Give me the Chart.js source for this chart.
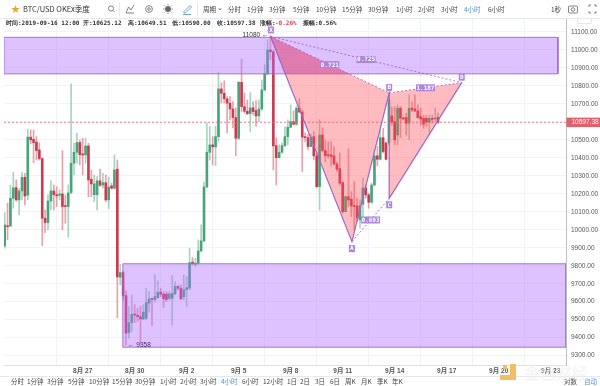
<!DOCTYPE html>
<html>
<head>
<meta charset="utf-8">
<title>BTC/USD</title>
<script src="https://cdn.jsdelivr.net/npm/chart.js@4/dist/chart.umd.min.js"></script>
<style>
html, body { margin: 0; padding: 0; background: #fff; overflow: hidden; }
#wrap { position: relative; width: 600px; height: 386px; overflow: hidden; font-family: "Noto Sans CJK SC", "Liberation Sans", sans-serif; }
#klineChart { position: absolute; left: 0; top: 0; }
.t { position: absolute; white-space: nowrap; font-size: 6.5px; line-height: 8px; color: #444; }
.bar { position: absolute; left: 0; width: 600px; height: 1px; background: #e6e8ea; }
.sep { position: absolute; top: 2px; width: 1px; height: 14px; background: #e6e8ea; }
.info { position: absolute; top: 19px; white-space: nowrap; font: 6px/8px "DejaVu Sans Mono", monospace; font-weight: bold; color: #333; }
</style>
</head>
<body>
<div id="wrap">
  <canvas id="klineChart" width="600" height="386"></canvas>
  <div id="chrome"></div>
</div>
<script>
// candles, 4 hour bars, first bar is bar 0
var opens = [9910,10021,10021,10175,10234,10166,10216,10292,10192,10515,10503,10488,10444,10396,10064,10040,10160,10216,10195,10192,
  10199,10133,10129,10207,10370,10431,10485,10422,10416,10466,10281,10195,10195,10272,10248,10262,10166,10244,10231,10337,
  9736,9762,9634,9428,9484,9530,9526,9517,9504,9508,9592,9616,9612,9622,9653,9642,9643,9619,9619,9643,
  9684,9675,9627,9667,9675,9820,9808,9814,9882,9938,10238,10431,10472,10461,10518,10783,10759,10728,10704,10672,
  10624,10509,10820,10685,10659,10646,10678,10663,10633,10672,10778,10867,11000,10990,10468,10401,10431,10468,10518,10570,
  10601,10587,10676,10655,10518,10512,10463,10518,10411,10240,10527,10440,10418,10416,10411,10366,10340,10262,10101,10184,
  10170,10133,10133,10055,10142,10233,10194,10153,10249,10411,10392,10512,10483,10483,10633,10601,10527,10676,10620,10624,
  10592,10676,10672,10661,10629,10620,10620,10598,10620,10616,10625.12];
var closes = [10027,10017,10175,10233,10166,10216,10292,10188,10515,10500,10485,10440,10396,10064,10040,10160,10216,10195,10188,10199,
  10129,10129,10205,10370,10431,10485,10418,10416,10466,10277,10255,10255,10272,10248,10262,10166,10237,10231,10333,9738,
  9762,9634,9425,9484,9530,9526,9517,9504,9542,9595,9616,9612,9628,9653,9642,9616,9612,9643,9647,9684,
  9675,9616,9666,9678,9817,9812,9814,9882,9938,10238,10431,10472,10461,10518,10783,10759,10728,10704,10672,10624,
  10509,10820,10685,10659,10646,10678,10657,10633,10672,10778,10867,11000,10990,10466,10401,10431,10468,10518,10570,10601,
  10587,10676,10655,10515,10512,10463,10515,10411,10240,10527,10440,10412,10412,10407,10366,10337,10259,10101,10184,10166,
  10133,10129,10064,10133,10233,10194,10153,10249,10411,10392,10512,10435,10392,10722,10598,10500,10676,10620,10616,10592,
  10676,10666,10661,10624,10616,10587,10598,10620,10614,10622,10597.38];
var highs = [10095,10148,10249,10320,10277,10231,10320,10314,10559,10555,10555,10518,10483,10400,10110,10194,10272,10249,10240,10222,
  10440,10194,10249,10811,10481,10537,10500,10509,10509,10481,10333,10305,10296,10338,10314,10305,10292,10259,10416,10388,
  9808,9770,9660,9573,9638,9586,9564,9573,9582,9675,9656,9620,9749,9716,9675,9656,9656,9656,9745,9712,
  9693,9693,9749,9740,9897,9845,9842,9944,10027,10266,10594,10574,10518,10577,10874,10818,10828,10740,10740,10713,
  10678,10825,10950,10761,10722,10763,10713,10718,10722,10833,10917,11056,11080,11000,10511,10472,10483,10574,10611,10694,
  10661,10689,10728,10666,10540,10530,10530,10546,10427,10611,10566,10500,10490,10490,10463,10379,10427,10268,10188,10450,
  10212,10268,10175,10166,10287,10249,10203,10259,10444,10463,10555,10564,10485,10761,10683,10685,10694,10685,10629,10648,
  10750,10713,10750,10694,10676,10638,10635,10638,10638,10676,10649.51];
var lows = [9897,9944,10017,10120,10160,10083,10166,10138,10166,10477,10373,10388,10388,9912,9984,9999,10110,10110,10129,10166,
  9999,10036,9959,10200,10305,10370,10361,10305,10370,10184,10184,10157,10110,10240,10231,10157,10116,10227,10225,9510,
  9693,9610,9358,9397,9434,9484,9490,9362,9499,9499,9542,9467,9597,9619,9628,9568,9602,9610,9471,9638,
  9666,9610,9610,9573,9666,9803,9795,9808,9877,9933,10233,10388,10361,10357,10491,10705,10705,10539,10611,10566,
  10412,10500,10657,10650,10639,10546,10639,10574,10601,10663,10772,10861,10945,10333,10249,10398,10425,10461,10472,10566,
  10581,10581,10651,10324,10490,10444,10460,10388,10233,10110,10435,10379,10398,10355,10361,10324,10249,10092,10099,10129,
  10073,9999,10045,10010,10073,10175,10120,10147,10245,10355,10388,10427,10388,10472,10581,10472,10472,10512,10611,10527,
  10500,10657,10657,10620,10581,10564,10574,10527,10592,10601,10590];

// x axis: one tick every 18 bars, bar offset 0 is 8月 27
var firstBarOffset = -27;
var xTickLabels = ['8月 27', '8月 30', '9月 2', '9月 5', '9月 8', '9月 11', '9月 14', '9月 17', '9月 20', '9月 23'];
var lastPrice = 10597.38;

// drawings, x in bars and y in price
var patternNames = ['X', 'A', 'B', 'C', 'D'];
var patternBars = [65, 93.2, 106.1, 106.1, 131.2];
var patternPrices = [11075, 9934, 10761, 10175, 10818];
var patternRatios = ['0.721', '0.725', '1.187', '0.693'];
var topZonePrices = [11070, 10867];
var topZoneBars = [-27.23, 164.5];
var bottomZonePrices = [9811, 9347];
var bottomZoneBars = [13.9, 167.3];
var highMark = [65, 11080];
var lowMark = [15, 9358];

var topButtons = [['周期', 203], ['分时', 228], ['1分钟', 247], ['3分钟', 269], ['5分钟', 293], ['10分钟', 316], ['15分钟', 342], ['30分钟', 368],
  ['1小时', 396], ['2小时', 418], ['3小时', 441], ['4小时', 464], ['6小时', 488], ['1秒', 551]];
var bottomButtons = [['分时', 11], ['1分钟', 27], ['3分钟', 47], ['5分钟', 68], ['10分钟', 89], ['15分钟', 112], ['30分钟', 135], ['1小时', 160],
  ['2小时', 180], ['3小时', 200], ['4小时', 221], ['6小时', 242], ['12小时', 263], ['1日', 287], ['2日', 300], ['3日', 315], ['6日', 330],
  ['周K', 345], ['月K', 361], ['季K', 377], ['年K', 392], ['对数', 564], ['自动', 584]];
var infoItems = [['时间:2019-09-16 12:00', 6], ['开:10625.12', 83], ['高:10649.51', 128], ['低:10590.00', 172], ['收:10597.38', 217], ['涨幅:', 260], ['-0.26%', 275], ['振幅:0.56%', 303]];

function addEl(parent, cls, text, css) {
    var el = document.createElement('div');
    el.className = cls;
    if (text) el.textContent = text;
    el.style.cssText = css;
    parent.appendChild(el);
    return el;
}

function buildChrome() {
    var box = document.getElementById('chrome');
    addEl(box, 'bar', '', 'top:18px');
    addEl(box, 'bar', '', 'top:376px');
    addEl(box, 'sep', '', 'left:119px');
    addEl(box, 'sep', '', 'left:197px');
    addEl(box, 't', '★', 'left:11px;top:4px;font-size:9px;line-height:10px;color:#f0a030');
    addEl(box, 't', 'BTC/USD OKEx季度', 'left:23px;top:5px;font-size:7.5px;color:#333');
    topButtons.forEach(function (b) {
        addEl(box, 't', b[0], 'left:' + b[1] + 'px;top:5px;color:' + (b[0] === '4小时' ? '#4a90d9' : '#444'));
    });
    addEl(box, 't', '⌄', 'left:217px;top:3px');
    bottomButtons.forEach(function (b) {
        addEl(box, 't', b[0], 'left:' + b[1] + 'px;top:377px;color:' + (b[0] === '4小时' || b[0] === '自动' ? '#4a90d9' : '#444'));
    });
    infoItems.forEach(function (b) {
        addEl(box, 'info', b[0], 'left:' + b[1] + 'px;color:' + (b[0] === '-0.26%' ? '#d8404f' : '#333'));
    });
    // toolbar icons
    var icons = document.createElementNS('http://www.w3.org/2000/svg', 'svg');
    icons.setAttribute('width', '600');
    icons.setAttribute('height', '18');
    icons.style.cssText = 'position:absolute;left:0;top:0';
    icons.innerHTML =
        '<g fill="none" stroke="#666" stroke-width="0.8">' +
        '<circle cx="111" cy="8.5" r="2.6"/><path d="M113 10.5l1.5 1.5"/>' +
        '<path d="M126 13l2.5-6 2.5 3 3-5M126 13h8"/>' +
        '<circle cx="149" cy="9" r="3.4"/><circle cx="149" cy="9" r="1.3"/>' +
        '<circle cx="168" cy="9" r="2.6" fill="#666"/><path d="M168 4v1.4M168 12.6v1.4M163 9h1.4M171.6 9h1.4M164.5 5.5l1 1M170.5 11.5l1 1M171.5 5.5l-1 1M165.5 11.5l-1 1"/>' +
        '<path stroke="#4a90d9" d="M184 11.5l6-6 1.5 1.5-6 6h-1.5zM183 14.5h8"/>' +
        '<rect x="568.5" y="6" width="9" height="7" rx="1"/><circle cx="573" cy="9.5" r="1.8"/>' +
        '<path d="M589 5h2M589 5v2M596 5h-2M596 5v2M589 13h2M589 13v-2M596 13h-2M596 13v-2"/>' +
        '</g>';
    box.appendChild(icons);
    addEl(box, 't', '', 'left:577px;top:19px;width:13px;height:4px;border:1px solid #e4e4e4;border-top:0;border-radius:0 0 2px 2px');
    // watermark
    addEl(box, 't', '', 'left:510px;top:364px;width:6px;height:16px;background:#f3bd62');
    addEl(box, 't', '', 'left:500px;top:375px;width:11px;height:5px;background:#f3bd62');
    addEl(box, 't', '', 'left:503px;top:365px;width:4px;height:4px;background:#f3bd62');
    addEl(box, 't', '金色财经', 'left:524px;top:363px;font-size:16px;line-height:18px;font-weight:bold;color:rgba(238,238,238,0.55)');
}

// small labels of the pattern, the price marks and the last price box
var labelPlugin = {
    id: 'labelPlugin',
    afterDatasetsDraw: function (chart) {
        var ctx = chart.ctx, xs = chart.scales.x, ys = chart.scales.y;

        function tag(text, px, py, w) {
            ctx.fillStyle = '#ac84de';
            ctx.fillRect(px - w / 2, py - 3.5, w, 7);
            ctx.fillStyle = '#fff';
            ctx.textAlign = 'center';
            ctx.textBaseline = 'middle';
            ctx.font = 'bold 6px "DejaVu Sans Mono", monospace';
            ctx.fillText(text, px, py + 0.3);
        }

        ctx.save();
        var offsets = [-6.5, 7, -5.5, 6.5, -5.5];
        patternNames.forEach(function (name, i) {
            tag(name, xs.getPixelForValue(patternBars[i]) + (i === 0 ? 0.5 : 0), ys.getPixelForValue(patternPrices[i]) + offsets[i], 6);
        });
        [[0, 2], [0, 4], [2, 4], [1, 3]].forEach(function (pair, i) {
            var mx = (patternBars[pair[0]] + patternBars[pair[1]]) / 2;
            var my = (patternPrices[pair[0]] + patternPrices[pair[1]]) / 2;
            tag(patternRatios[i], xs.getPixelForValue(mx), ys.getPixelForValue(my), 19);
        });

        ctx.fillStyle = '#333';
        ctx.font = '6.5px "Liberation Sans", sans-serif';
        ctx.textBaseline = 'middle';
        ctx.textAlign = 'right';
        ctx.fillText(highMark[1] + ' ←', xs.getPixelForValue(highMark[0]) - 2, ys.getPixelForValue(highMark[1]));
        ctx.fillStyle = '#4a2a78';
        ctx.textAlign = 'left';
        ctx.fillText('← ' + lowMark[1], xs.getPixelForValue(lowMark[0]) + 2, ys.getPixelForValue(lowMark[1]));

        var py = ys.getPixelForValue(lastPrice);
        ctx.fillStyle = '#e0606c';
        ctx.fillRect(xs.right + 0.5, py - 4.7, 33.5, 9.4);
        ctx.fillStyle = '#fff';
        ctx.textAlign = 'left';
        ctx.font = '6.5px "Liberation Sans", sans-serif';
        ctx.fillText(String(lastPrice), xs.right + 5.5, py + 0.3);
        ctx.restore();
    }
};

document.addEventListener('DOMContentLoaded', function () {
    buildChrome();

    var green = 'rgba(62,160,115,0.92)', red = 'rgba(200,50,72,0.92)';
    var greenWick = 'rgba(62,160,115,0.45)', redWick = 'rgba(200,50,72,0.45)';
    var purple = '#a066c8';

    var bodies = [], wicks = [], bodyColors = [], wickColors = [];
    opens.forEach(function (o, i) {
        var x = i + firstBarOffset;
        bodies.push({ x: x, y: [o, closes[i]] });
        wicks.push({ x: x, y: [lows[i], highs[i]] });
        bodyColors.push(closes[i] >= o ? green : red);
        wickColors.push(closes[i] >= o ? greenWick : redWick);
    });

    function patternPoint(i) {
        return { x: patternBars[i], y: patternPrices[i] };
    }
    // where an edge leaving X crosses the lower side of the top zone
    function crossing(i) {
        var t = (patternPrices[0] - topZonePrices[1]) / (patternPrices[0] - patternPrices[i]);
        return { x: patternBars[0] + (patternBars[i] - patternBars[0]) * t, y: topZonePrices[1] };
    }
    function zonePoints(bars, prices) {
        return [
            { x: bars[0], y: prices[0] }, { x: bars[1], y: prices[0] },
            { x: bars[1], y: prices[1] }, { x: bars[0], y: prices[1] },
            { x: bars[0], y: prices[0] }
        ];
    }
    function shape(points, fill, border, width, dash, order) {
        return {
            type: 'line', data: points, order: order,
            fill: fill ? 'shape' : false, backgroundColor: fill || 'transparent',
            borderColor: border, borderWidth: width, borderDash: dash,
            pointRadius: 0, tension: 0
        };
    }

    var ctx = document.getElementById('klineChart').getContext('2d');
    var klineChart = new Chart(ctx, {
        data: {
            datasets: [
                { type: 'bar', data: wicks, backgroundColor: wickColors, barThickness: 1, grouped: false, order: 11 },
                { type: 'bar', data: bodies, backgroundColor: bodyColors, barThickness: 2, minBarLength: 1, grouped: false, order: 10 },
                shape([{ x: -27.23, y: lastPrice }, { x: 167.3, y: lastPrice }], null, '#d87080', 0.8, [2, 2], 9),
                shape(zonePoints(topZoneBars, topZonePrices), 'rgba(176,110,255,0.42)', purple, 0.9, [], 8),
                shape(zonePoints(bottomZoneBars, bottomZonePrices), 'rgba(176,110,255,0.42)', purple, 0.9, [], 7),
                shape([patternPoint(0), patternPoint(1), patternPoint(2), patternPoint(0)], 'rgba(255,80,90,0.38)', 'transparent', 0, [], 6),
                shape([patternPoint(2), patternPoint(3), patternPoint(4), patternPoint(2)], 'rgba(255,80,90,0.38)', 'transparent', 0, [], 5),
                // the reference darkens where the triangle lies over the top zone
                shape([patternPoint(0), crossing(1), crossing(2), patternPoint(0)], 'rgba(200,60,140,0.3)', 'transparent', 0, [], 5),
                shape([patternPoint(0), patternPoint(1), patternPoint(2), patternPoint(3), patternPoint(4)], null, purple, 1.2, [], 4),
                shape([patternPoint(0), patternPoint(2)], null, purple, 0.9, [2, 2], 3),
                shape([patternPoint(0), patternPoint(4)], null, purple, 0.9, [2, 2], 2),
                shape([patternPoint(2), patternPoint(4)], null, purple, 0.9, [2, 2], 1),
                shape([patternPoint(1), patternPoint(3)], null, purple, 0.9, [2, 2], 1)
            ]
        },
        options: {
            responsive: false,
            animation: false,
            events: [],
            layout: { padding: { left: 4, top: 19, right: 0, bottom: 0 } },
            plugins: { legend: { display: false }, tooltip: { enabled: false } },
            scales: {
                x: {
                    type: 'linear',
                    min: -27.23,
                    max: 167.3,
                    offset: false,
                    afterFit: function (s) { s.height = 21; },
                    afterBuildTicks: function (s) {
                        s.ticks = s.ticks.filter(function (t) { return t.value >= 0; });
                    },
                    grid: { color: '#f1f4f6', lineWidth: 1, drawTicks: false },
                    border: { color: '#dfe2e5' },
                    ticks: {
                        stepSize: 18,
                        includeBounds: false,
                        autoSkip: false,
                        maxRotation: 0,
                        padding: 2,
                        color: '#555',
                        font: { family: '"Liberation Sans", "Noto Sans CJK SC"', size: 6.5, weight: 'bold' },
                        callback: function (v) { return xTickLabels[v / 18]; }
                    }
                },
                y: {
                    type: 'linear',
                    position: 'right',
                    min: 9248,
                    max: 11172,
                    afterFit: function (s) { s.width = 34; },
                    grid: { color: '#f1f4f6', lineWidth: 1, drawTicks: false },
                    border: { color: '#bdbfc2', width: 1 },
                    ticks: {
                        stepSize: 100,
                        includeBounds: false,
                        padding: 5,
                        color: '#555',
                        font: { family: '"Liberation Sans"', size: 6.5 },
                        callback: function (v) { return v.toFixed(2); }
                    }
                }
            }
        },
        plugins: [labelPlugin]
    });
});
</script>
</body>
</html>
